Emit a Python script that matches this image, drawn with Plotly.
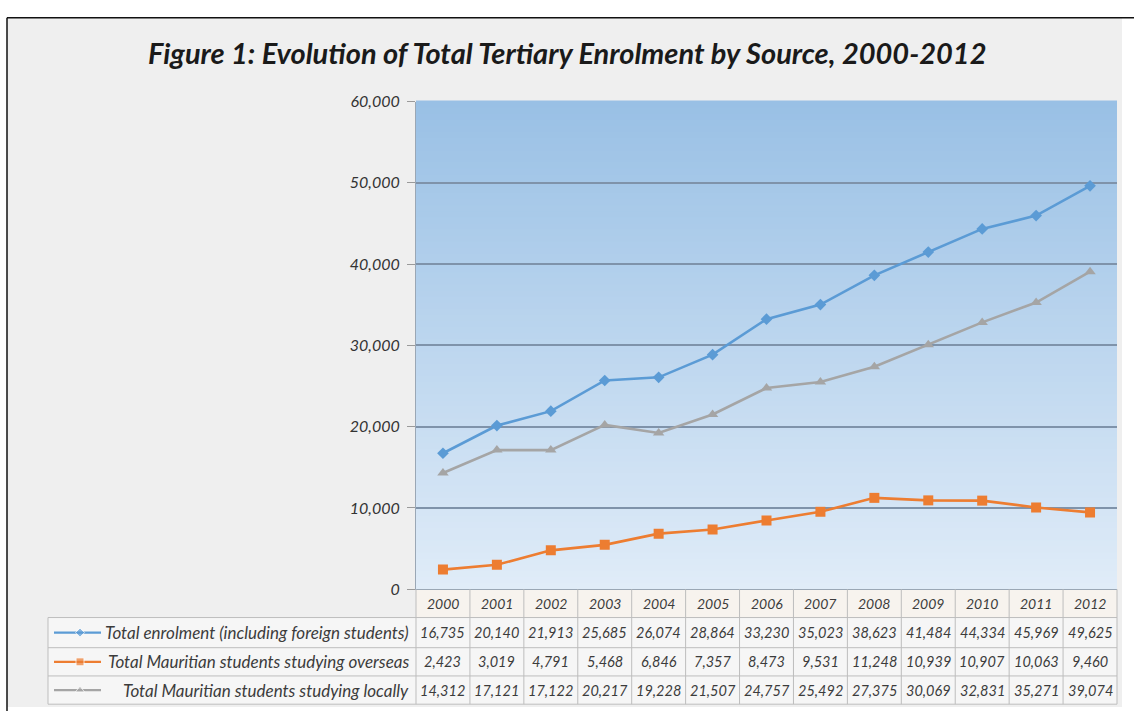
import plotly.graph_objects as go

# ---- data -------------------------------------------------------------
years = ["2000", "2001", "2002", "2003", "2004", "2005", "2006",
         "2007", "2008", "2009", "2010", "2011", "2012"]

total_enrolment = [16735, 20140, 21913, 25685, 26074, 28864, 33230,
                   35023, 38623, 41484, 44334, 45969, 49625]
studying_overseas = [2423, 3019, 4791, 5468, 6846, 7357, 8473,
                     9531, 11248, 10939, 10907, 10063, 9460]
studying_locally = [14312, 17121, 17122, 20217, 19228, 21507, 24757,
                    25492, 27375, 30069, 32831, 35271, 39074]

series_names = [
    "Total enrolment (including foreign students)",
    "Total Mauritian students studying overseas",
    "Total Mauritian students studying locally",
]
series_values = [total_enrolment, studying_overseas, studying_locally]
series_colors = ["#5b9bd5", "#ed7d31", "#a5a5a5"]
series_symbols = ["diamond", "square", "triangle-up"]
series_sizes = [9, 10, 10]

y_ticks = [0, 10000, 20000, 30000, 40000, 50000, 60000]

title_text = "Figure 1: Evolution of Total Tertiary Enrolment by Source, 2000-2012"

# ---- page geometry (pixels) -------------------------------------------
W, H = 1134, 720
PLOT_L, PLOT_R = 416, 1117
PLOT_T, PLOT_B = 94, 595
TABLE_L = 48
HEADER_B = 624
ROW_EDGES = [624, 655, 684, 713]

FONT = "Lato"
TEXT_COL = "#3c3c3c"


def px(x):
    return x / W


def py(y):
    return 1 - y / H


fig = go.Figure()

# chart lines
for name, vals, col, sym, sz in zip(series_names, series_values, series_colors,
                                    series_symbols, series_sizes):
    fig.add_trace(go.Scatter(
        x=years, y=vals, name=name, mode="lines+markers",
        line=dict(color=col, width=2.6),
        marker=dict(symbol=sym, size=sz, color=col),
        showlegend=False, xaxis="x", yaxis="y",
    ))

# legend keys inside the data table (pixel overlay axis)
for i, (col, sym, sz) in enumerate(zip(series_colors, series_symbols, series_sizes)):
    yc = (ROW_EDGES[i] + ROW_EDGES[i + 1]) / 2
    fig.add_trace(go.Scatter(
        x=[54, 80, 101], y=[yc, yc, yc], mode="lines+markers",
        line=dict(color=col, width=2.2),
        marker=dict(symbol=["circle", sym, "circle"], size=[0, sz - 2, 0], color=col),
        showlegend=False, xaxis="x2", yaxis="y2", hoverinfo="skip",
    ))

shapes = []

# page background with top/left border
shapes.append(dict(type="rect", xref="paper", yref="paper",
                   x0=px(7), x1=px(1122), y0=py(716), y1=py(8),
                   fillcolor="#efefef", line=dict(width=0), layer="below"))
shapes.append(dict(type="line", xref="paper", yref="paper",
                   x0=px(7), x1=1, y0=py(8), y1=py(8),
                   line=dict(color="#111111", width=1.5), layer="below"))
shapes.append(dict(type="line", xref="paper", yref="paper",
                   x0=px(7), x1=px(7), y0=0, y1=py(8),
                   line=dict(color="#111111", width=1.5), layer="below"))

# vertical gradient for the plot area
N = 80
top_rgb = (153, 192, 229)
bot_rgb = (224, 236, 248)
for k in range(N):
    t = (k + 0.5) / N  # 0 at bottom, 1 at top
    c = tuple(round(b + (a - b) * t) for a, b in zip(top_rgb, bot_rgb))
    shapes.append(dict(type="rect", xref="x domain", yref="y domain",
                       x0=0, x1=1, y0=k / N, y1=(k + 1) / N + 0.002,
                       fillcolor="rgb(%d,%d,%d)" % c, line=dict(width=0),
                       layer="below"))

# data table cells
CELL_FILL = "#f6f6f6"
GRID = "#bdbdbd"
col_w = (PLOT_R - PLOT_L) / len(years)
shapes.append(dict(type="rect", xref="paper", yref="paper",
                   x0=px(PLOT_L), x1=px(PLOT_R), y0=py(HEADER_B), y1=py(PLOT_B),
                   fillcolor="#f7f3ee", line=dict(width=0), layer="below"))
shapes.append(dict(type="rect", xref="paper", yref="paper",
                   x0=px(TABLE_L), x1=px(PLOT_R), y0=py(ROW_EDGES[-1]), y1=py(ROW_EDGES[0]),
                   fillcolor=CELL_FILL, line=dict(width=0), layer="below"))
for yv in ROW_EDGES:
    shapes.append(dict(type="line", xref="paper", yref="paper",
                       x0=px(TABLE_L), x1=px(PLOT_R), y0=py(yv), y1=py(yv),
                       line=dict(color=GRID, width=1)))
shapes.append(dict(type="line", xref="paper", yref="paper",
                   x0=px(TABLE_L), x1=px(TABLE_L), y0=py(ROW_EDGES[-1]), y1=py(ROW_EDGES[0]),
                   line=dict(color=GRID, width=1)))
for j in range(len(years) + 1):
    xv = PLOT_L + j * col_w
    shapes.append(dict(type="line", xref="paper", yref="paper",
                       x0=px(xv), x1=px(xv), y0=py(ROW_EDGES[-1]), y1=py(PLOT_B),
                       line=dict(color=GRID, width=1)))

annotations = []
annotations.append(dict(text="<b><i>%s</i></b>" % title_text, xref="paper", yref="paper",
                        x=px(567), y=py(44), showarrow=False,
                        font=dict(family=FONT, size=29, color="#1a1a1a"),
                        xanchor="center", yanchor="middle"))

hdr_y = (PLOT_B + HEADER_B) / 2
for j, yr in enumerate(years):
    xc = PLOT_L + (j + 0.5) * col_w
    annotations.append(dict(text="<i>%s</i>" % yr, xref="paper", yref="paper",
                            x=px(xc), y=py(hdr_y), showarrow=False,
                            font=dict(family=FONT, size=14, color=TEXT_COL),
                            xanchor="center", yanchor="middle"))

for i, (name, vals) in enumerate(zip(series_names, series_values)):
    yc = (ROW_EDGES[i] + ROW_EDGES[i + 1]) / 2
    annotations.append(dict(text="<i>%s</i>" % name, xref="paper", yref="paper",
                            x=px(411), y=py(yc), showarrow=False,
                            font=dict(family=FONT, size=17, color=TEXT_COL),
                            xanchor="right", yanchor="middle"))
    for j, v in enumerate(vals):
        xc = PLOT_L + (j + 0.5) * col_w
        annotations.append(dict(text="<i>{:,}</i>".format(v), xref="paper", yref="paper",
                                x=px(xc), y=py(yc), showarrow=False,
                                font=dict(family=FONT, size=14.5, color=TEXT_COL),
                                xanchor="center", yanchor="middle"))

fig.update_layout(
    width=W, height=H,
    margin=dict(l=0, r=0, t=0, b=0),
    paper_bgcolor="#ffffff",
    plot_bgcolor="rgba(0,0,0,0)",
    shapes=shapes,
    annotations=annotations,
    showlegend=False,
    xaxis=dict(domain=[px(PLOT_L), px(PLOT_R)], type="category",
               range=[-0.5, len(years) - 0.5], showticklabels=False,
               showgrid=False, zeroline=False, ticks="",
               showline=True, linecolor="#9aa7b5", linewidth=1, mirror=False),
    yaxis=dict(domain=[py(PLOT_B), py(PLOT_T)], range=[0, 60000],
               tickvals=y_ticks, tickformat=",", ticks="outside", ticklen=8,
               tickcolor="#9a9a9a", showgrid=True, gridcolor="#7f93aa",
               gridwidth=1.5, zeroline=False, showline=True,
               linecolor="#9aa7b5", linewidth=1, ticklabelstandoff=4,
               tickfont=dict(family=FONT, size=16, color="#333333", style="italic")),
    xaxis2=dict(domain=[0, 1], range=[0, W], visible=False, anchor="y2"),
    yaxis2=dict(domain=[0, 1], range=[H, 0], visible=False, anchor="x2"),
)

fig.write_html("out.html")
